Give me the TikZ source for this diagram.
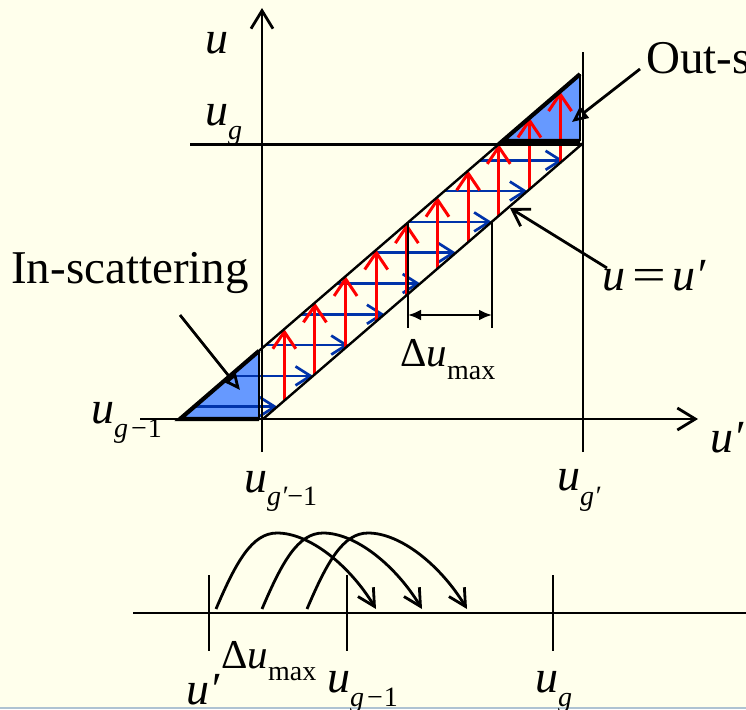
\documentclass[tikz,border=0pt]{standalone}
\usepackage{fontspec}
\setmainfont{Liberation Serif}
\usetikzlibrary{arrows.meta}
\definecolor{bgc}{RGB}{255,255,236}
\definecolor{triblue}{RGB}{102,153,255}
\definecolor{arrblue}{RGB}{0,51,170}
\definecolor{arrred}{RGB}{255,0,0}
\definecolor{edgeline}{RGB}{175,195,210}
\newcommand\msz{\fontsize{46}{46}\selectfont}
\newcommand\ssz{\fontsize{28}{28}\selectfont}
\newcommand\dsz{\fontsize{41}{41}\selectfont}
\newcommand\tsz{\fontsize{47}{47}\selectfont}
\newcommand\lowr[2]{\raisebox{-#1}{\ssz #2}}
\begin{document}
\begin{tikzpicture}[x=1pt,y=-1pt,
  lab/.style={inner sep=0pt, anchor=base west},
  axisline/.style={line width=2.8pt, black},
  bandline/.style={line width=2.4pt, black},
  redarr/.style={line width=3pt, arrred, -{Straight Barb[length=17pt,width=23pt]}},
  bluearr/.style={line width=2.7pt, arrblue, -{Straight Barb[length=15pt,width=19pt]}},
  axarrow/.style={line width=2.8pt, -{Straight Barb[length=18pt,width=22pt]}},
  pointer/.style={line width=2.8pt, -{Triangle[open,length=16pt,width=14pt]}},
  vpointer/.style={line width=2.8pt, -{Straight Barb[length=16pt,width=20pt]}},
  hop/.style={line width=2.8pt, -{Straight Barb[length=17pt,width=18pt]}},
  dimarr/.style={line width=2.4pt, {Latex[length=13pt,width=11pt]}-{Latex[length=13pt,width=11pt]}}
]
\fill[bgc] (0,0) rectangle (746,709);
\fill[edgeline] (0,707) rectangle (746,709);
\useasboundingbox (0,0) rectangle (746,709);

% triangles fill
\fill[triblue] (180,419) -- (259,350.9) -- (259,419) -- cycle;
\fill[triblue] (502.5,141) -- (580,74.2) -- (580,141) -- cycle;

% blue horizontal arrows
\foreach \k in {0,...,8} {
  \pgfmathsetmacro\yy{406.7-30.8*\k}
  \pgfmathsetmacro\xa{180+(419-\yy)/0.862}
  \pgfmathsetmacro\xb{263+(419-\yy)/0.862}
  \draw[bluearr] (\xa,\yy) -- (\xb,\yy);
}
% red vertical arrows
\foreach \k in {0,...,9} {
  \pgfmathsetmacro\xx{284.3+30.64*\k}
  \pgfmathsetmacro\ylo{419-(\xx-263)*0.862}
  \pgfmathsetmacro\yup{419-(\xx-180)*0.862}
  \draw[redarr] (\xx,\ylo) -- (\xx,\yup);
}

% band lines
\draw[bandline] (180,419) -- (580,74.2);
\draw[bandline] (263,419) -- (583,143.2);
% triangle outlines
\draw[line width=4.2pt] (259,350.9) -- (180,419) -- (259,419);
\draw[line width=1.6pt] (259,350.9) -- (259,419);
\draw[line width=4.2pt] (580,74.2) -- (502.5,141) -- (580,141);
\draw[line width=1.6pt] (580,74.2) -- (580,141);

% axes
\coordinate (vaxB) at (262,452);
\coordinate (vaxT) at (262,8);
\coordinate (haxL) at (140,419);
\coordinate (haxR) at (698,419);
\draw[axarrow] (vaxB) -- (vaxT);
\draw[axarrow] (haxL) -- (haxR);
\coordinate (rvB) at (583,452);
\coordinate (rvT) at (583,52);
\draw[axisline] (rvB) -- (rvT);
\coordinate (ugL) at (190,144.5);
\coordinate (ugR) at (583,144.5);
\draw[axisline] (ugL) -- (ugR);

% delta u max dimension
\coordinate (d1T) at (408,222.5);
\coordinate (d1B) at (408,328);
\coordinate (d2T) at (492,221.6);
\coordinate (d2B) at (492,328);
\draw[line width=2.4pt] (d1T) -- (d1B);
\draw[line width=2.4pt] (d2T) -- (d2B);
\coordinate (dl) at (408,315);
\coordinate (dr) at (492,315);
\draw[dimarr] (dl) -- (dr);
\node[lab] (dumax) at (400,366) {\dsz Δ\itshape u\lowr{13pt}{\upshape max}};

% labels
\node[lab] (uaxis) at (205,53) {\msz\itshape u};
\node[lab] (ug) at (205,125) {\msz\itshape u\lowr{14pt}{g}};
\node[lab] (ugm) at (91,423) {\msz\itshape u\lowr{14pt}{g\hspace{3pt}\upshape −\hspace{1pt}1}};
\node[lab] (ugpm) at (244,492) {\msz\itshape u\lowr{13pt}{g′\upshape −1}};
\node[lab] (ugp) at (557,490) {\msz\itshape u\lowr{15pt}{g′}};
\node[lab] (upr) at (710,452) {\msz\itshape u′};
\node[lab] (ueq) at (602,290) {\msz\itshape u\hspace{7pt}\upshape\scalebox{1.3}[1]{=}\hspace{7pt}\itshape u′};
\node[lab] (insc) at (11,283) {\tsz In-scattering};
\node[lab] (outs) at (646,73) {\tsz Out-s};

% pointers
\coordinate (inA) at (180,315);
\coordinate (inB) at (240,390);
\draw[pointer] (inA) -- (inB);
\coordinate (outA) at (640,69);
\coordinate (outB) at (572,122);
\draw[pointer] (outA) -- (outB);
\coordinate (eqA) at (607,268);
\coordinate (eqB) at (510,208);
\draw[vpointer] (eqA) -- (eqB);

% bottom number line
\coordinate (bL) at (133,613);
\coordinate (bR) at (746,613);
\draw[axisline] (bL) -- (bR);
\foreach \t in {209,347,553} {
  \draw[axisline] (\t,575) -- (\t,651);
}
\foreach \d in {0,46,91} {
  \draw[hop] (216+\d,609) .. controls (236+\d,562) and (252+\d,533) .. (277+\d,533)
     .. controls (310+\d,533) and (350+\d,566) .. (376+\d,609);
}
\node[lab] (bu) at (186,704) {\msz\itshape u′};
\node[lab] (bdu) at (221,668) {\dsz Δ\itshape u\lowr{12pt}{\upshape max}};
\node[lab] (bug1) at (327,692) {\msz\itshape u\lowr{14pt}{g\hspace{3pt}\upshape −\hspace{1pt}1}};
\node[lab] (bug) at (535,692) {\msz\itshape u\lowr{14pt}{g}};
\end{tikzpicture}
\end{document}
